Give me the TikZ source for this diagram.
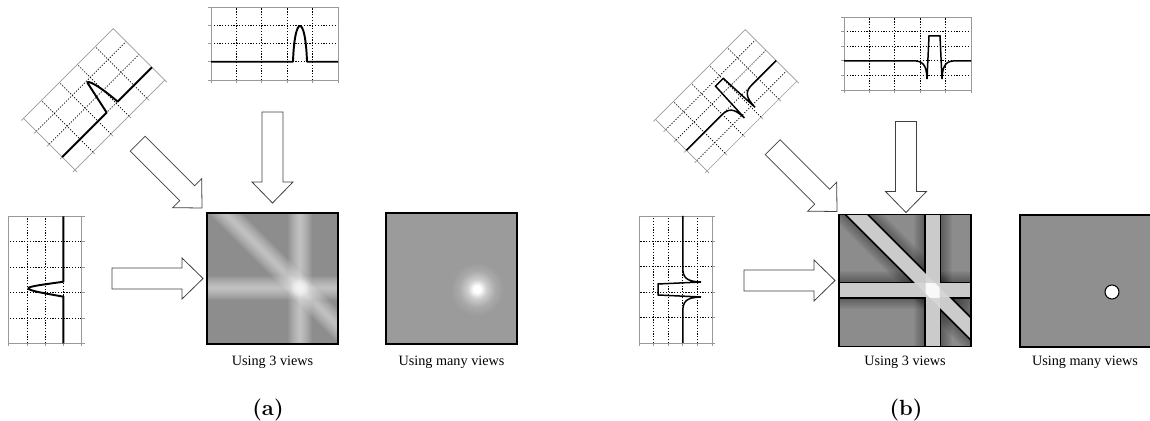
\documentclass[tikz,border=0pt]{standalone}
\usepackage{fontspec}
\newfontfamily\captionfont{Liberation Serif}
\usetikzlibrary{calc}

\definecolor{recgray}{HTML}{8D8D8D}
\definecolor{manygray}{HTML}{9B9B9B}
\definecolor{filtgray}{HTML}{8C8C8C}
\definecolor{bandgray}{HTML}{BEBEBE}
\definecolor{dotgray}{HTML}{8F8F8F}
\colorlet{glowmid}{white!50!manygray}
\colorlet{glowlow}{white!15!manygray}
\pgfdeclareradialshading{glow}{\pgfpointorigin}{color(0bp)=(white); color(3bp)=(white); color(8bp)=(glowmid); color(15bp)=(glowlow); color(22bp)=(manygray); color(50bp)=(manygray)}

\tikzset{
  gridframe/.style={draw=gray!80, line width=0.4pt},
  gridline/.style={line width=0.4pt, dash pattern=on 0.7pt off 0.9pt},
  gridtick/.style={gray!80, line width=0.4pt},
  signalA/.style={line width=1.1pt, line join=round},
  signalB/.style={line width=0.85pt, line join=miter},
  viewbox/.style={minimum size=2.62cm, inner sep=0pt, outer sep=0pt},
  viewframe/.style={line width=1.1pt},
  blockarrow/.style={draw=black!75, fill=white, line width=0.45pt, line join=miter},
  caption/.style={font=\captionfont\fontsize{8.1}{9}\selectfont, anchor=base},
  panel/.style={font=\fontsize{12.5}{14}\selectfont\bfseries, anchor=base},
  fatarrow/.pic={\path[blockarrow] (0,0) -- (-21,20.5) -- (-21,10.5) -- (-91,10.5) -- (-91,-10.5) -- (-21,-10.5) -- (-21,-20.5) -- cycle;}
}

% grid of one projection, local y pointing up
\newcommand{\projgrid}[1]{%
  \pgfmathsetmacro{\rowh}{73/#1}
  \pgfmathtruncatemacro{\lastrow}{#1-1}
  \foreach \c in {1,...,4} \draw[gridline] (\c*25.4,0) -- (\c*25.4,73);
  \foreach \c in {0,...,5} \draw[gridtick] (\c*25.4,0) -- (\c*25.4,-3);
  \foreach \r in {1,...,\lastrow} \draw[gridline] (0,\r*\rowh) -- (127,\r*\rowh);
  \foreach \r in {0,...,#1} \draw[gridtick] (0,\r*\rowh) -- (-3,\r*\rowh);
  \draw[gridframe] (0,0) rectangle (127,73);
}
% filtered pulse centred at #1
\newcommand{\rampsignal}[1]{%
  \draw[signalB] (0,29.2) -- (#1-22,29.2) .. controls (#1-12,29.2) and (#1-8,26) .. (#1-7.5,11)
    -- (#1-5.5,54) -- (#1+5.5,54) -- (#1+7.5,11) .. controls (#1+8,26) and (#1+12,29.2) .. (#1+22,29.2) -- (127,29.2);
}

\begin{document}
\begin{tikzpicture}[x=0.02cm, y=-0.02cm]
  \useasboundingbox (0,0) rectangle (1150,421);

  % (a) projections
  \coordinate (topA) at (211,80);
  \coordinate (diagA) at (75,170);
  \coordinate (sideA) at (81.7,343.3);
  \begin{scope}[shift={(topA)}, yscale=-1]
    \projgrid{4}
    \draw[signalA] (0,18.25) -- (82,18.25) .. controls (83.6,66) and (94.4,66) .. (96,18.25) -- (127,18.25);
  \end{scope}
  \begin{scope}[shift={(diagA)}, rotate=45, yscale=-1]
    \projgrid{4}
    \draw[signalA] (0,18.25) -- (63,18.25) -- (70.5,53) .. controls (72.5,54.5) and (76.5,44) .. (78.5,18.25) -- (127,18.25);
  \end{scope}
  \begin{scope}[shift={(sideA)}, rotate=90, yscale=-1]
    \projgrid{4}
    \draw[signalA] (0,18.25) -- (46.6,18.25) .. controls (49.5,34) and (52.5,53.5) .. (55,53.5) .. controls (57,53.5) and (59,36) .. (61.6,18.25) -- (127,18.25);
  \end{scope}

  % (a) reconstructions
  \node[viewbox, fill=recgray] (recA) at (272.5,278.5) {};
  \begin{scope}
    \clip (recA.south west) rectangle (recA.north east);
    \begin{scope}[shift={(300,288)}]
      \foreach \a in {0,90,-45} \foreach \w in {1,...,12}
        \fill[white, opacity=0.055, rotate=\a] (-200,-\w) rectangle (200,\w);
      \foreach \r in {2,...,9} \fill[white, opacity=0.12] (0,0) circle (\r);
    \end{scope}
  \end{scope}
  \draw[viewframe] (recA.south west) rectangle (recA.north east);

  \node[viewbox, fill=manygray] (manyA) at (451.5,278.5) {};
  \shade[shading=glow] (477,289) circle (30);
  \draw[viewframe] (manyA.south west) rectangle (manyA.north east);

  \pic[rotate=0] at ($(recA.west)+(-4,0)$) {fatarrow};
  \pic[rotate=-90] at ($(recA.north)+(0,-10)$) {fatarrow};
  \pic[rotate=-45] at ($(recA.north west)+(-5,-5)$) {fatarrow};

  \node[caption] (capA) at (272.5,365.5) {Using 3 views};
  \node[caption] (capManyA) at (451.5,365.5) {Using many views};
  \node[panel] (labelA) at (268,416) {(a)};

  % (b) projections
  \coordinate (topB) at (844,90);
  \coordinate (diagB) at (707,171);
  \coordinate (sideB) at (712,343);
  \begin{scope}[shift={(topB)}, yscale=-1]
    \projgrid{5}
    \rampsignal{90.5}
  \end{scope}
  \begin{scope}[shift={(diagB)}, rotate=45, yscale=-1]
    \projgrid{5}
    \rampsignal{71.5}
  \end{scope}
  \begin{scope}[shift={(sideB)}, rotate=90, yscale=-1]
    \projgrid{5}
    \rampsignal{53.5}
  \end{scope}

  % (b) reconstructions
  \node[viewbox, minimum size=2.64cm, fill=filtgray] (recB) at (905,280.5) {};
  \begin{scope}
    \clip (recB.south west) rectangle (recB.north east);
    \begin{scope}[shift={(932.5,290.5)}]
      \foreach \a in {0,90,-45} \foreach \w in {1,...,10}
        \fill[black, opacity=0.03, rotate=\a] (-200,-9-\w) rectangle (200,9+\w);
      \foreach \a in {0,90,-45} \fill[rotate=\a] (-200,-8.8) rectangle (200,8.8);
      \foreach \a in {0,90,-45} \fill[bandgray, rotate=\a] (-200,-7) rectangle (200,7);
      \foreach \a in {0,90,-45} \fill[white, opacity=0.2, rotate=\a] (-200,-7) rectangle (200,7);
      \begin{scope}
        \clip (-7,-7) rectangle (7,7);
        \fill[white, opacity=0.8, rotate=-45] (-20,-7) rectangle (20,7);
      \end{scope}
    \end{scope}
  \end{scope}
  \draw[viewframe] (recB.south west) rectangle (recB.north east);

  \node[viewbox, minimum size=2.64cm, fill=dotgray] (manyB) at (1086,281) {};
  \draw[viewframe] (manyB.south west) rectangle (manyB.north east);
  \node[circle, draw, fill=white, line width=0.6pt, minimum size=0.28cm, inner sep=0pt] (dotB) at (1112,292) {};

  \pic[rotate=0] at ($(recB.west)+(-4,0)$) {fatarrow};
  \pic[rotate=-90] at ($(recB.north)+(1,-2)$) {fatarrow};
  \pic[rotate=-45] at ($(recB.north west)+(-2,-3)$) {fatarrow};

  \node[caption] (capB) at (905,365.5) {Using 3 views};
  \node[caption] (capManyB) at (1085,365.5) {Using many views};
  \node[panel] (labelB) at (906,416) {(b)};
\end{tikzpicture}
\end{document}
